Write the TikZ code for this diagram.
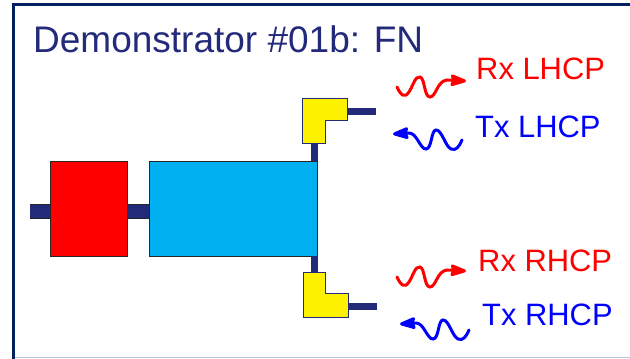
\documentclass[tikz,border=0pt]{standalone}
\usepackage{fontspec}
\setmainfont{Liberation Sans}
\usetikzlibrary{arrows.meta}
\definecolor{navy}{HTML}{232A7A}
\definecolor{framenavy}{HTML}{002060}
\definecolor{skyblue}{HTML}{00B0F0}
\definecolor{framepale}{HTML}{B8C2DC}

\begin{document}
\begin{tikzpicture}[
    x=1pt,y=-1pt,
    box/.style={draw=black!85,line width=1pt,minimum height=95pt,inner sep=0pt,outer sep=0pt},
    stub/.style={navy,line width=7pt},
    stubout/.style={draw=black!85,line width=1pt,double=navy,double distance=13pt},
    yellowbend/.style={draw=navy,fill=yellow,line width=1pt},
    wave/.style={line width=3pt,line cap=round,-{Stealth[length=19pt,width=13pt,inset=2pt,round=false]}},
    rflabel/.style={font=\fontsize{30.9}{31}\selectfont,anchor=base west,inner sep=0pt}
    ]
    \useasboundingbox (0,0) rectangle (630,359);
    \fill[white] (0,0) rectangle (630,359);
    \draw[framepale,line width=1pt] (15,357.5) -- (630,357.5);
    \draw[framenavy,line width=3pt] (13.5,359) -- (13.5,4) -- (630,4);
    \node[anchor=base west,inner sep=0pt,text=navy,font=\fontsize{37}{37}\selectfont] (title) at (33,52) {Demonstrator \#01b: FN};
    \node[box,fill=red,minimum width=77pt] (redbox) at (88.5,208.5) {};
    \node[box,fill=skyblue,minimum width=168pt] (bluebox) at (233,208.5) {};
    \coordinate (stubend) at (30,211.5);
    \draw[stubout] (stubend) -- (redbox.west |- stubend);
    \draw[stubout] (redbox.east |- stubend) -- (bluebox.west |- stubend);
    % upper bend
    \draw[yellowbend] (302,98) coordinate (bendtl) -- (347,98) -- (347,120) -- (325,120) -- (325,143) -- (302,143) -- cycle;
    \coordinate (bendtb) at (314.5,143);
    \coordinate (bendtr) at (347,111.5);
    \coordinate (outtr) at (376,111.5);
    \draw[stub] (bendtb) -- (bendtb |- bluebox.north);
    \draw[stub] (bendtr) -- (outtr);
    % lower bend
    \draw[yellowbend] (303,272) coordinate (bendbl) -- (325,272) -- (325,293) -- (348,293) -- (348,317) -- (303,317) -- cycle;
    \coordinate (bendbt) at (314.5,272);
    \coordinate (bendbr) at (348,306.5);
    \coordinate (outbr) at (377,306.5);
    \draw[stub] (bendbt) -- (bendbt |- bluebox.south);
    \draw[stub] (bendbr) -- (outbr);
    % waves
    \draw[wave,red] (397,87) .. controls (401,96) and (405,98) .. (409,92) .. controls (413,86) and (415,76) .. (420,77) .. controls (425,78) and (424,97) .. (430,97) .. controls (436,97) and (437,81) .. (447,80) -- (466,81);
    \draw[wave,blue] (462,140) .. controls (459,147) and (456,151) .. (451,149) .. controls (445,146) and (442,130) .. (436,130) .. controls (431,130) and (432,149) .. (426,149) .. controls (420,149) and (417,133) .. (409,133) -- (393,134);
    \draw[wave,red] (397,277) .. controls (401,286) and (405,288) .. (409,282) .. controls (413,276) and (415,266) .. (420,267) .. controls (425,268) and (424,287) .. (430,287) .. controls (436,287) and (437,271) .. (447,270) -- (466,271);
    \draw[wave,blue] (469,330) .. controls (466,337) and (463,341) .. (458,339) .. controls (452,336) and (449,320) .. (443,320) .. controls (438,320) and (439,339) .. (433,339) .. controls (427,339) and (424,323) .. (416,323) -- (400,324);
    % labels
    \node[rflabel,text=red] (rxl) at (476,79) {Rx LHCP};
    \node[rflabel,text=blue] (txl) at (475,137) {Tx LHCP};
    \node[rflabel,text=red] (rxr) at (478,271) {Rx RHCP};
    \node[rflabel,text=blue] (txr) at (482,325) {Tx RHCP};
\end{tikzpicture}
\end{document}
